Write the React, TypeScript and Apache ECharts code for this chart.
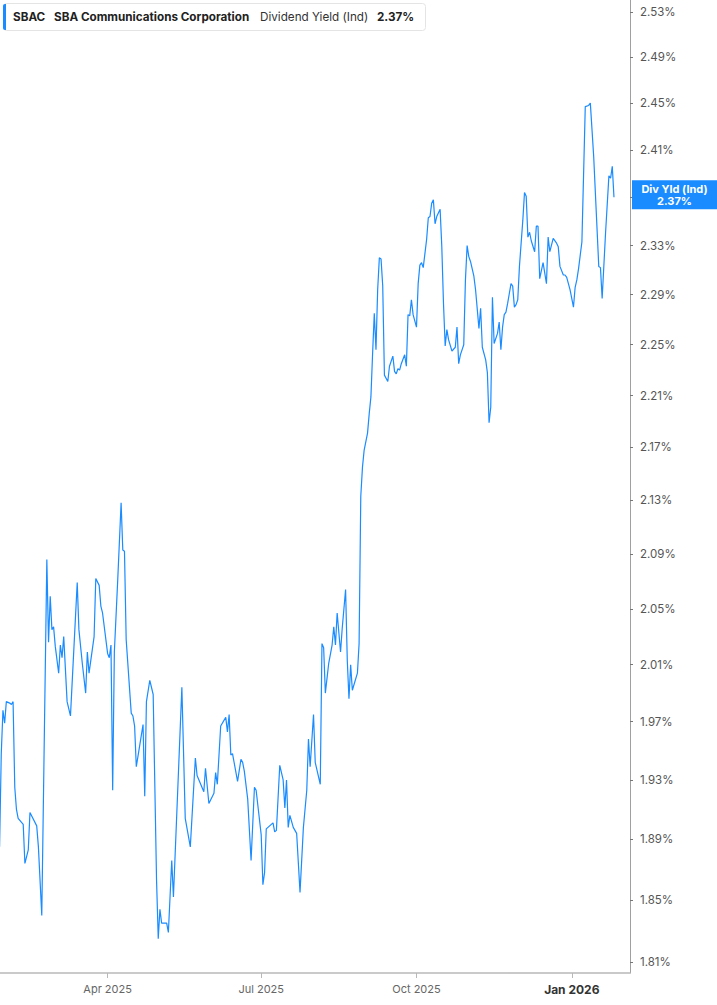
import React, { useEffect, useRef } from 'react';
import * as echarts from 'echarts';

const ticker = 'SBAC';
const company = 'SBA Communications Corporation';
const metric = 'Dividend Yield (Ind)';
const badgeTitle = 'Div Yld (Ind)';
const lastValue = 2.37;

const dates: string[] = [
  '2025-01-27','2025-01-28','2025-01-29','2025-01-30','2025-01-31',
  '2025-02-02','2025-02-03','2025-02-04','2025-02-05','2025-02-06','2025-02-07','2025-02-10','2025-02-11','2025-02-13','2025-02-14','2025-02-18','2025-02-19','2025-02-21','2025-02-24','2025-02-25','2025-02-26','2025-02-27','2025-02-28',
  '2025-03-01','2025-03-03','2025-03-04','2025-03-05','2025-03-06','2025-03-08','2025-03-10','2025-03-14','2025-03-15','2025-03-17','2025-03-19','2025-03-20','2025-03-21','2025-03-24','2025-03-25','2025-03-27','2025-03-28','2025-03-29',
  '2025-04-01','2025-04-02','2025-04-03','2025-04-04','2025-04-05','2025-04-07','2025-04-09','2025-04-10','2025-04-11','2025-04-12','2025-04-15','2025-04-16','2025-04-17','2025-04-18','2025-04-22','2025-04-23','2025-04-24','2025-04-26','2025-04-28','2025-04-30',
  '2025-05-01','2025-05-02','2025-05-03','2025-05-06','2025-05-07','2025-05-09','2025-05-10','2025-05-15','2025-05-17','2025-05-20','2025-05-23','2025-05-24','2025-05-28','2025-05-29','2025-05-31',
  '2025-06-03','2025-06-04','2025-06-05','2025-06-07','2025-06-10','2025-06-11','2025-06-12','2025-06-13','2025-06-14','2025-06-17','2025-06-19','2025-06-20','2025-06-21','2025-06-23','2025-06-25','2025-06-27','2025-06-28',
  '2025-07-01','2025-07-02','2025-07-03','2025-07-04','2025-07-08','2025-07-09','2025-07-10','2025-07-12','2025-07-14','2025-07-15','2025-07-16','2025-07-17','2025-07-18','2025-07-20','2025-07-22','2025-07-24','2025-07-26','2025-07-28','2025-07-29','2025-07-30',
  '2025-08-01','2025-08-02','2025-08-05','2025-08-06','2025-08-07','2025-08-08','2025-08-10','2025-08-12','2025-08-13','2025-08-14','2025-08-15','2025-08-17','2025-08-18','2025-08-20','2025-08-21','2025-08-22','2025-08-23','2025-08-24','2025-08-27','2025-08-28','2025-08-29','2025-08-30','2025-08-31',
  '2025-09-02','2025-09-03','2025-09-04','2025-09-05','2025-09-06','2025-09-07','2025-09-08','2025-09-09','2025-09-10','2025-09-11','2025-09-12','2025-09-14','2025-09-15','2025-09-17','2025-09-18','2025-09-19','2025-09-20','2025-09-21','2025-09-22','2025-09-24','2025-09-25','2025-09-26','2025-09-27','2025-09-28','2025-09-29',
  '2025-10-01','2025-10-02','2025-10-03','2025-10-04','2025-10-05','2025-10-07','2025-10-08','2025-10-09','2025-10-10','2025-10-11','2025-10-12','2025-10-13','2025-10-15','2025-10-16','2025-10-17','2025-10-18','2025-10-19','2025-10-20','2025-10-22','2025-10-24','2025-10-25','2025-10-26','2025-10-27','2025-10-29','2025-10-30','2025-10-31',
  '2025-11-01','2025-11-02','2025-11-04','2025-11-05','2025-11-07','2025-11-08','2025-11-09','2025-11-11','2025-11-12','2025-11-13','2025-11-14','2025-11-15','2025-11-16','2025-11-18','2025-11-19','2025-11-20','2025-11-21','2025-11-22','2025-11-23','2025-11-24','2025-11-25','2025-11-26','2025-11-27','2025-11-28','2025-11-29','2025-11-30',
  '2025-12-01','2025-12-03','2025-12-04','2025-12-05','2025-12-06','2025-12-07','2025-12-08','2025-12-10','2025-12-11','2025-12-12','2025-12-13','2025-12-15','2025-12-17','2025-12-18','2025-12-19','2025-12-21','2025-12-23','2025-12-24','2025-12-25','2025-12-27','2025-12-28','2025-12-29','2025-12-31',
  '2026-01-02','2026-01-03','2026-01-04','2026-01-05','2026-01-07','2026-01-09','2026-01-11','2026-01-12','2026-01-14','2026-01-17','2026-01-18','2026-01-19','2026-01-21','2026-01-23','2026-01-24','2026-01-25','2026-01-26',
];

const yieldPct: number[] = [
  1.885,1.948,1.978,1.969,1.984,
  1.983,1.982,1.984,1.925,1.910,1.904,1.900,1.874,1.883,1.908,1.899,1.885,1.840,2.086,2.026,2.059,2.035,2.037,
  2.023,2.004,2.024,2.015,2.030,1.984,1.974,2.069,2.035,2.011,1.990,2.019,2.004,2.030,2.072,2.067,2.052,2.047,
  2.018,2.015,2.024,1.923,2.019,2.071,2.128,2.093,2.092,2.028,1.976,1.974,1.967,1.939,1.968,1.919,1.984,1.999,1.989,1.863,
  1.825,1.844,1.835,1.835,1.829,1.876,1.852,1.994,1.904,1.885,1.945,1.933,1.922,1.938,1.914,
  1.921,1.935,1.927,1.967,1.973,1.963,1.975,1.947,1.948,1.929,1.944,1.942,1.936,1.917,1.876,1.925,1.923,
  1.893,1.860,1.868,1.897,1.901,1.895,1.896,1.940,1.930,1.911,1.930,1.898,1.906,1.898,1.894,1.855,1.898,1.923,1.958,1.939,
  1.975,1.942,1.927,2.025,2.022,1.990,2.011,2.024,2.037,2.024,2.047,2.019,2.036,2.064,2.013,1.986,2.010,1.992,2.004,2.025,2.133,2.155,2.168,
  2.181,2.196,2.209,2.243,2.275,2.246,2.294,2.320,2.319,2.297,2.226,2.221,2.233,2.241,2.229,2.227,2.231,2.230,2.235,2.242,2.233,2.274,2.273,2.286,2.274,
  2.264,2.299,2.314,2.316,2.312,2.335,2.353,2.354,2.365,2.368,2.348,2.354,2.360,2.329,2.283,2.249,2.262,2.254,2.245,2.248,2.264,2.235,2.242,2.250,2.302,2.330,
  2.321,2.317,2.305,2.294,2.263,2.279,2.248,2.238,2.228,2.189,2.201,2.288,2.251,2.259,2.268,2.246,2.264,2.274,2.276,2.283,2.291,2.299,2.297,2.280,2.282,2.286,
  2.313,2.351,2.374,2.371,2.337,2.341,2.334,2.325,2.346,2.346,2.303,2.316,2.299,2.337,2.325,2.336,2.332,2.329,2.313,2.306,2.306,2.304,2.294,
  2.280,2.296,2.302,2.311,2.333,2.447,2.448,2.450,2.404,2.313,2.312,2.287,2.340,2.388,2.386,2.396,2.370,
];

const yTicks: number[] = [1.81,1.85,1.89,1.93,1.97,2.01,2.05,2.09,2.13,2.17,2.21,2.25,2.29,2.33,2.37,2.41,2.45,2.49,2.53];
const xTicks: string[] = ['2025-04-01','2025-07-01','2025-10-01','2026-01-01'];
const monthNames = ['Jan','Feb','Mar','Apr','May','Jun','Jul','Aug','Sep','Oct','Nov','Dec'];

const toTime = (s: string) => {
  const [y, m, d] = s.split('-').map(Number);
  return new Date(y, m - 1, d).getTime();
};

const FONT = 'Inter, "Noto Sans", "DejaVu Sans", sans-serif';
const BLUE = '#1a8cff';

export default function App() {
  const ref = useRef<HTMLDivElement>(null);
  useEffect(() => {
    if (!ref.current) return;
    const chart = echarts.init(ref.current, null, { renderer: 'svg' });
    const data = dates.map((d, i) => [toTime(d), Math.log(yieldPct[i])]);
    const xTickTimes = xTicks.map(toTime);
    const yTickLogs = yTicks.map((v) => Math.log(v));
    // the label under the last-value badge is covered in the reference
    const yLabelLogs = yTicks.filter((v) => Math.abs(v - lastValue) > 1e-9).map((v) => Math.log(v));
    const axisTop = 0.93245;
    const axisBottom = 0.58946;
    const xMin = new Date(2025, 0, 27, 6).getTime();
    const xMax = new Date(2026, 1, 4, 12).getTime();
    chart.setOption({
      animation: false,
      textStyle: { fontFamily: FONT },
      grid: { left: 0, right: 87, top: 0, bottom: 32 },
      xAxis: {
        type: 'value',
        min: xMin,
        max: xMax,
        axisLine: { show: true, lineStyle: { color: '#b8b8b8', width: 1.5 } },
        axisTick: { show: true, customValues: xTickTimes, length: 5, lineStyle: { color: '#b8b8b8', width: 1 } },
        axisLabel: {
          customValues: xTickTimes,
          margin: 10,
          formatter: (v: number) => {
            const dt = new Date(v);
            const txt = monthNames[dt.getMonth()] + ' ' + dt.getFullYear();
            return dt.getMonth() === 0 ? '{b|' + txt + '}' : '{a|' + txt + '}';
          },
          rich: {
            a: { color: '#666', fontSize: 11, fontFamily: FONT },
            b: { color: '#333', fontSize: 12, fontWeight: 'bold', fontFamily: FONT },
          },
        },
        splitLine: { show: false },
      },
      yAxis: {
        type: 'value',
        position: 'right',
        min: axisBottom,
        max: axisTop,
        axisLine: { show: true, lineStyle: { color: '#a0a0a0', width: 1 } },
        axisTick: { show: true, customValues: yTickLogs, length: 3, lineStyle: { color: '#777' } },
        axisLabel: {
          customValues: yLabelLogs,
          formatter: (v: number) => Math.exp(v).toFixed(2) + '%',
          color: '#555',
          fontSize: 11.5,
          margin: 10,
          fontFamily: FONT,
        },
        splitLine: { show: false },
      },
      series: [
        {
          type: 'line',
          data,
          symbol: 'none',
          showSymbol: false,
          lineStyle: { color: BLUE, width: 1.2 },
          clip: true,
        },
      ],
    });

    const yPix = chart.convertToPixel({ yAxisIndex: 0 }, Math.log(lastValue)) as number;
    const axisX = chart.convertToPixel({ xAxisIndex: 0 }, xMax) as number;
    const lastStr = lastValue.toFixed(2) + '%';
    chart.setOption({
      graphic: [
        {
          type: 'group',
          z: 100,
          children: [
            { type: 'rect', z: 100, shape: { x: 3.5, y: 3.5, width: 422, height: 27, r: 3 }, style: { fill: '#fff', stroke: '#e4e4e4', lineWidth: 1 } },
            { type: 'rect', z: 101, shape: { x: 3, y: 4, width: 3, height: 26, r: [2, 0, 0, 2] }, style: { fill: BLUE } },
            { type: 'text', z: 101, x: 13, y: 17, style: { text: ticker, fill: '#222', font: 'bold 11.7px ' + FONT, verticalAlign: 'middle' } },
            { type: 'text', z: 101, x: 54, y: 17, style: { text: company, fill: '#222', font: 'bold 11.7px ' + FONT, verticalAlign: 'middle' } },
            { type: 'text', z: 101, x: 260, y: 17, style: { text: metric, fill: '#333', font: '11.7px ' + FONT, verticalAlign: 'middle' } },
            { type: 'text', z: 101, x: 377, y: 17, style: { text: lastStr, fill: '#222', font: 'bold 11.7px ' + FONT, verticalAlign: 'middle' } },
          ],
        },
        {
          type: 'group',
          z: 100,
          children: [
            { type: 'rect', z: 100, shape: { x: axisX + 2, y: yPix - 17, width: 717 - axisX - 2, height: 29 }, style: { fill: BLUE } },
            { type: 'text', z: 101, x: (axisX + 2 + 717) / 2, y: yPix - 8, style: { text: badgeTitle, fill: '#fff', font: 'bold 11px ' + FONT, align: 'center', verticalAlign: 'middle' } },
            { type: 'text', z: 101, x: (axisX + 2 + 717) / 2, y: yPix + 4, style: { text: lastStr, fill: '#fff', font: 'bold 11px ' + FONT, align: 'center', verticalAlign: 'middle' } },
          ],
        },
      ],
    });
    return () => chart.dispose();
  }, []);
  return <div ref={ref} style={{ position: 'absolute', left: 0, top: 0, width: 717, height: 1005 }} />;
}
